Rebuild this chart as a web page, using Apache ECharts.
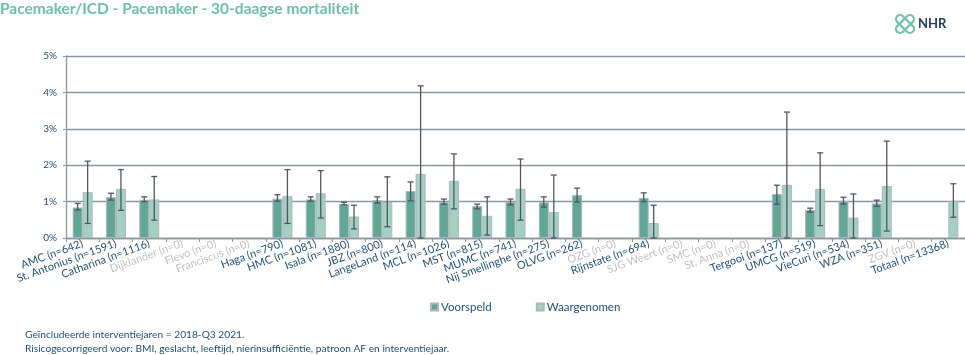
<!DOCTYPE html>
<html>
<head>
<meta charset="utf-8">
<script src="https://cdn.jsdelivr.net/npm/echarts@6/dist/echarts.min.js"></script>
<style>html,body{margin:0;padding:0;background:#fff}#c{width:965px;height:355px}</style>
</head>
<body>
<div id="c"></div>
<script>
// ---- data ----
const hospitals = ['AMC','St. Antonius','Catharina','Dijklander','Flevo','Franciscus','Haga','HMC','Isala','JBZ','LangeLand','MCL','MST','MUMC','Nij Smellinghe','OLVG','OZG','Rijnstate','SJG Weert','SMC','St. Anna','Tergooi','UMCG','VieCuri','WZA','ZGV','Totaal'];
const nValues = [642,1591,1116,0,0,0,790,1081,1880,800,114,1026,815,741,275,262,0,694,0,0,0,137,519,534,351,0,13368];
const voorspeld = [0.84,1.12,1.05,null,null,null,1.08,1.06,0.93,1.04,1.29,0.98,0.88,0.99,0.98,1.18,null,1.10,null,null,null,1.21,0.77,1.02,0.95,null,null];
const voorspeldLow = [0.77,1.04,1.00,null,null,null,1.01,1.01,0.91,0.96,1.02,0.93,0.80,0.91,0.85,0.99,null,1.00,null,null,null,0.93,0.71,0.93,0.87,null,null];
const voorspeldHigh = [0.95,1.23,1.13,null,null,null,1.19,1.13,0.98,1.13,1.54,1.07,0.93,1.07,1.13,1.37,null,1.24,null,null,null,1.45,0.82,1.12,1.04,null,null];
const waargenomen = [1.26,1.35,1.06,null,null,null,1.15,1.23,0.59,0.99,1.76,1.57,0.61,1.35,0.71,null,null,0.41,null,null,null,1.46,1.35,0.56,1.43,null,1.02];
const waargenomenLow = [0.40,0.76,0.49,null,null,null,0.40,0.55,0.25,0.31,0,0.80,0.08,0.49,0,null,null,0,null,null,null,0,0.34,0,0.19,null,0.57];
const waargenomenHigh = [2.11,1.88,1.69,null,null,null,1.88,1.85,0.90,1.68,4.18,2.31,1.13,2.17,1.73,null,null,0.90,null,null,null,3.46,2.34,1.21,2.66,null,1.49];
const yTicks = [0,1,2,3,4,5];

const DARK = '#1f4e79', GREY = '#bfbfbf';
const categories = hospitals.map((h,i)=>({value: h + ' (n=' + nValues[i] + ')', textStyle:{color: nValues[i]===0 ? GREY : DARK}}));

function errData(lo, hi){
  const out = [];
  lo.forEach((l,i)=>{ if(l!==null && hi[i]!==null) out.push([i,l,hi[i]]); });
  return out;
}
function errRender(offset){
  return function(params, api){
    const x = api.value(0);
    const p1 = api.coord([x, api.value(1)]);
    const p2 = api.coord([x, api.value(2)]);
    const cx = p1[0] + offset;
    const cap = 3;
    const st = {stroke:'#4d5864', lineWidth:1.3};
    return {type:'group', children:[
      {type:'line', shape:{x1:cx,y1:p1[1],x2:cx,y2:p2[1]}, style:st},
      {type:'line', shape:{x1:cx-cap,y1:p1[1],x2:cx+cap,y2:p1[1]}, style:st},
      {type:'line', shape:{x1:cx-cap,y1:p2[1],x2:cx+cap,y2:p2[1]}, style:st}
    ]};
  };
}

const chart = echarts.init(document.getElementById('c'), null, {renderer:'canvas'});
const FONT = 'Lato, "Open Sans", sans-serif';
chart.setOption({
  animation:false,
  textStyle:{fontFamily:FONT},
  grid:{left:66, right:0, top:56, bottom:117, containLabel:false},
  legend:{
    data:['Voorspeld','Waargenomen'], left:425, top:296, itemWidth:7, itemHeight:7, itemGap:44,
    icon:'rect', textStyle:{color:DARK, fontSize:11.5, fontFamily:FONT, padding:[0,0,0,-2]}
  },
  xAxis:{
    type:'category', data:categories,
    axisLine:{lineStyle:{color:'#8a96a3', width:1.3}},
    axisTick:{show:true, length:4, lineStyle:{color:'#8a96a3'}},
    axisLabel:{interval:0, rotate:20, fontSize:11, margin:5, fontFamily:FONT}
  },
  yAxis:{
    type:'value', min:yTicks[0], max:yTicks[yTicks.length-1], interval:1,
    axisLine:{show:true, lineStyle:{color:'#8a96a3', width:1.3}},
    axisTick:{show:true, length:3, inside:false, lineStyle:{color:'#8a96a3'}},
    axisLabel:{formatter:'{value}%', color:DARK, fontSize:10, margin:9, fontFamily:FONT},
    splitLine:{lineStyle:{color:'#8a96a3', width:1.3}}
  },
  series:[
    {name:'Voorspeld', type:'bar', data:voorspeld, barWidth:10, barGap:'0%',
     itemStyle:{color:'#5fa898', borderColor:'#b0b6b4', borderWidth:1}},
    {name:'Waargenomen', type:'bar', data:waargenomen, barWidth:10, barGap:'0%',
     itemStyle:{color:'#a2d0c3', borderColor:'#b0b6b4', borderWidth:1}},
    {type:'custom', renderItem:errRender(-5), data:errData(voorspeldLow, voorspeldHigh), encode:{x:0,y:[1,2]}, z:10, silent:true},
    {type:'custom', renderItem:errRender(5), data:errData(waargenomenLow, waargenomenHigh), encode:{x:0,y:[1,2]}, z:10, silent:true}
  ],
  graphic:[
    {type:'text', left:0, top:1, style:{text:'Pacemaker/ICD - Pacemaker - 30-daagse mortaliteit', fill:'#6cc0a6', font:'bold 15.5px ' + FONT}},
    {type:'text', left:25, top:330, style:{text:'Geïncludeerde interventiejaren = 2018-Q3 2021.', fill:DARK, font:'10.2px ' + FONT}},
    {type:'text', left:25, top:344, style:{text:'Risicogecorrigeerd voor: BMI, geslacht, leeftijd, nierinsufficiëntie, patroon AF en interventiejaar.', fill:DARK, font:'10.2px ' + FONT}},
    {type:'group', x:905, y:24, children:[
      {type:'rect', rotation:Math.PI/4, shape:{x:-11,y:-4,width:22,height:8,r:4}, style:{fill:'none', stroke:'#72c3ac', lineWidth:2.2}},
      {type:'rect', rotation:-Math.PI/4, shape:{x:-11,y:-4,width:22,height:8,r:4}, style:{fill:'none', stroke:'#72c3ac', lineWidth:2.2}}
    ]},
    {type:'text', left:918, top:17, style:{text:'NHR', fill:'#1d3f5e', font:'bold 13px ' + FONT}}
  ]
});
</script>
</body>
</html>
